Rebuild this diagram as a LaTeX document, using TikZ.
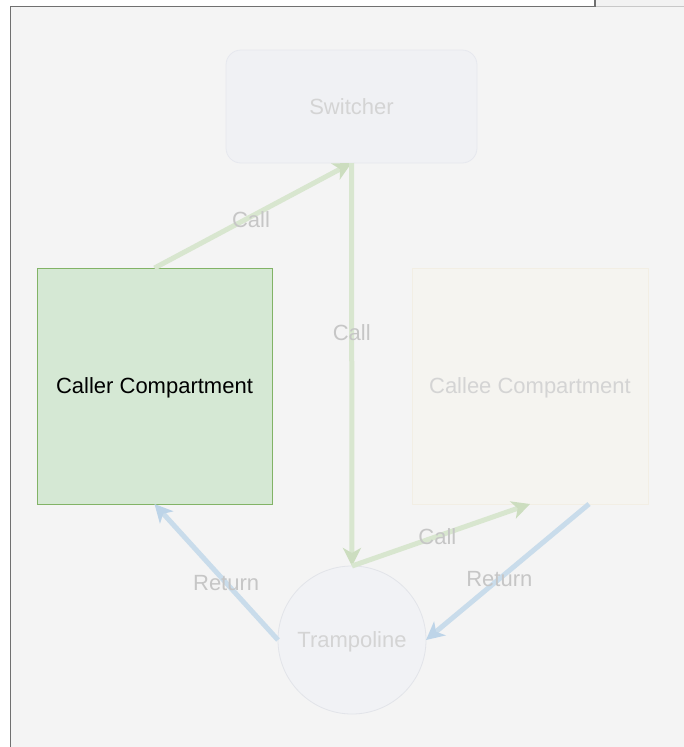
\documentclass[tikz,border=0pt]{standalone}
\usepackage{fontspec}
\setmainfont{Liberation Sans}
\usetikzlibrary{arrows.meta,calc}

\definecolor{canvas}{HTML}{F4F4F4}
\definecolor{frameline}{HTML}{707070}
\definecolor{tabline}{HTML}{C8C8C8}
\definecolor{tabfill}{HTML}{F2F2F2}
\definecolor{callerfill}{HTML}{D5E8D4}
\definecolor{callerline}{HTML}{82B366}
\definecolor{switchfill}{HTML}{F0F1F4}
\definecolor{switchline}{HTML}{E6E8EE}
\definecolor{calleefill}{HTML}{F5F4F0}
\definecolor{calleeline}{HTML}{F2EEE4}
\definecolor{trampfill}{HTML}{F1F2F5}
\definecolor{trampline}{HTML}{E2E4E9}
\definecolor{fadedtext}{HTML}{D4D4D4}
\definecolor{labeltext}{HTML}{C6C6C6}
\definecolor{callgreen}{HTML}{D8E6CF}
\definecolor{callhead}{HTML}{CCDDBF}
\definecolor{retblue}{HTML}{C9DCEB}
\definecolor{rethead}{HTML}{BDD4E8}

\tikzset{
  textfont/.style={font=\fontsize{22}{26}\selectfont, text depth=0pt},
  box/.style={draw, line width=0.8pt, outer sep=0pt, inner sep=0pt,
    textfont, text=fadedtext},
  callflow/.style={line width=5pt, draw=callgreen,
    -{Stealth[length=18pt,width=18pt,inset=5pt,color=callhead,fill=callhead]}},
  retflow/.style={line width=5pt, draw=retblue,
    -{Stealth[length=18pt,width=18pt,inset=5pt,color=rethead,fill=rethead]}},
  edgelabel/.style={textfont, text=labeltext, inner sep=0pt}
}

\begin{document}
\begin{tikzpicture}[x=1pt, y=-1pt]
  % page and canvas
  \useasboundingbox (0,0) rectangle (684,747);
  \fill[white] (0,0) rectangle (684,747);
  \fill[canvas] (10.5,6.5) rectangle (684,747);
  \fill[tabfill] (595,0) rectangle (684,6.5);
  \draw[tabline, line width=1.2pt] (595,6.5) -- (684,6.5);
  \draw[frameline, line width=1.5pt] (595,0) -- (595,6.5);
  \draw[frameline, line width=1.5pt] (10.5,747) -- (10.5,6.5) -- (595,6.5);

  % nodes
  \node[box, fill=switchfill, draw=switchline, rounded corners=15pt,
        minimum width=251pt, minimum height=113pt] (switcher) at (351.5,106.5) {Switcher};
  \node[box, fill=callerfill, draw=callerline, text=black,
        minimum width=235pt, minimum height=236pt] (caller) at (154.5,386) {Caller Compartment};
  \node[box, fill=calleefill, draw=calleeline,
        minimum width=236pt, minimum height=236pt] (callee) at (530,386) {Callee Compartment};
  \node[box, circle, fill=trampfill, draw=trampline,
        minimum size=148pt] (tramp) at (352,640) {Trampoline};

  \coordinate (calleeout) at ($(callee.south)!0.5!(callee.south east)$);

  % call path
  \draw[callflow] (caller.north) -- (switcher.south)
    node[edgelabel, pos=0.49, yshift=-3pt] {Call};
  \draw[callflow] (switcher.south) -- (tramp.north)
    node[edgelabel, pos=0.42] {Call};
  \draw[callflow] (tramp.north) -- (callee.south)
    node[edgelabel, pos=0.48] {Call};

  % return path
  \draw[retflow] (tramp.west) -- (caller.south)
    node[edgelabel, pos=0.42] {Return};
  \draw[retflow] (calleeout) -- (tramp.east)
    node[edgelabel, pos=0.55] {Return};
\end{tikzpicture}
\end{document}
